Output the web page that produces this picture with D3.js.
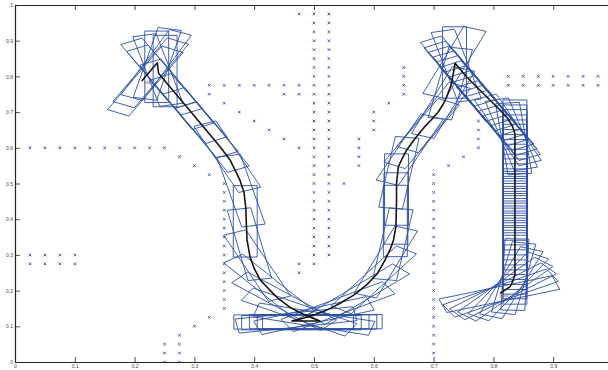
<!DOCTYPE html>
<html>
<head>
<meta charset="utf-8">
<script src="https://d3js.org/d3.v7.min.js"></script>
<style>
  html, body { margin: 0; padding: 0; background: #fff; }
  svg { display: block; }
  .tick text { font-family: "Liberation Sans", Arial, sans-serif; font-size: 5px; fill: #444; }
</style>
</head>
<body>
<div id="chart"></div>
<script>
// ---- data ----
const xTickValues = [0, 0.1, 0.2, 0.3, 0.4, 0.5, 0.6, 0.7, 0.8, 0.9];
const xTickLabels = ["0", "0.1", "0.2", "0.3", "0.4", "0.5", "0.6", "0.7", "0.8", "0.9"];
const yTickValues = [0, 0.1, 0.2, 0.3, 0.4, 0.5, 0.6, 0.7, 0.8, 0.9, 1];
const yTickLabels = ["0", "0.1", "0.2", "0.3", "0.4", "0.5", "0.6", "0.7", "0.8", "0.9", "1"];

// obstacle points (x, y)
const obsLeftRows = [
  [0.025, 0.6], [0.05, 0.6], [0.075, 0.6], [0.1, 0.6], [0.125, 0.6], [0.15, 0.6], [0.175, 0.6], [0.2, 0.6], [0.225, 0.6], [0.25, 0.6],
  [0.025, 0.3], [0.05, 0.3], [0.075, 0.3], [0.1, 0.3],
  [0.025, 0.275], [0.05, 0.275], [0.075, 0.275], [0.1, 0.275]
];
const obsLeftWall = [
  [0.25, 0], [0.25, 0.025], [0.25, 0.05], [0.275, 0], [0.275, 0.025], [0.275, 0.05], [0.275, 0.075],
  [0.3, 0.1], [0.325, 0.125],
  [0.35, 0.15], [0.35, 0.175], [0.35, 0.2], [0.35, 0.225], [0.35, 0.25], [0.35, 0.275], [0.35, 0.3], [0.35, 0.325],
  [0.35, 0.35], [0.35, 0.375], [0.35, 0.4], [0.35, 0.425], [0.35, 0.45], [0.35, 0.475], [0.35, 0.5],
  [0.325, 0.525], [0.3, 0.55], [0.275, 0.575]
];
const obsTopLeft = [
  [0.325, 0.775], [0.35, 0.775], [0.375, 0.775], [0.4, 0.775], [0.425, 0.775], [0.45, 0.775], [0.475, 0.775],
  [0.325, 0.75], [0.45, 0.75], [0.475, 0.75],
  [0.35, 0.725], [0.375, 0.7], [0.4, 0.675], [0.425, 0.65], [0.45, 0.625], [0.475, 0.6],
  [0.475, 0.975], [0.475, 0.275], [0.475, 0.25]
];
const obsColumn050 = [0.975, 0.95, 0.925, 0.9, 0.875, 0.85, 0.825, 0.8, 0.775, 0.75, 0.725, 0.7, 0.675, 0.65, 0.625,
  0.6, 0.575, 0.55, 0.525, 0.5, 0.475, 0.45, 0.425, 0.4, 0.375, 0.35, 0.325, 0.3, 0.275];
const obsColumn0525 = [0.975, 0.95, 0.925, 0.9, 0.875, 0.85, 0.825, 0.8, 0.775, 0.75, 0.725, 0.7, 0.675, 0.65, 0.625,
  0.6, 0.575, 0.55, 0.525, 0.5, 0.475, 0.45, 0.425, 0.4, 0.375, 0.35, 0.325, 0.3];
const obsMiddle = [
  [0.55, 0.5], [0.575, 0.55], [0.575, 0.575], [0.575, 0.6], [0.575, 0.625],
  [0.6, 0.65], [0.6, 0.675], [0.6, 0.7], [0.625, 0.725],
  [0.65, 0.75], [0.65, 0.775], [0.65, 0.8], [0.65, 0.825]
];
const obsColumn070 = [0.025, 0.05, 0.075, 0.1, 0.125, 0.15, 0.175, 0.2, 0.225, 0.25, 0.275, 0.3, 0.325,
  0.35, 0.375, 0.4, 0.425, 0.45, 0.475, 0.5, 0.525];
const obsRight = [
  [0.725, 0.55], [0.75, 0.575], [0.775, 0.6], [0.775, 0.625], [0.775, 0.65], [0.775, 0.675],
  [0.825, 0.8], [0.85, 0.8], [0.875, 0.8], [0.9, 0.8], [0.925, 0.8], [0.95, 0.8], [0.975, 0.8],
  [0.825, 0.775], [0.85, 0.775], [0.875, 0.775], [0.9, 0.775], [0.925, 0.775], [0.95, 0.775], [0.975, 0.775]
];

// path of the robot centre (x, y)
const pathPoints = [
  [0.212, 0.787], [0.238, 0.838], [0.240, 0.809], [0.343, 0.603], [0.360, 0.565], [0.376, 0.510],
  [0.383, 0.475], [0.386, 0.430], [0.387, 0.380], [0.388, 0.342], [0.393, 0.295], [0.400, 0.262],
  [0.410, 0.230], [0.424, 0.205], [0.440, 0.178], [0.460, 0.153], [0.477, 0.138], [0.493, 0.126],
  [0.510, 0.115], [0.463, 0.115], [0.480, 0.122], [0.500, 0.132], [0.522, 0.146], [0.543, 0.164],
  [0.567, 0.188], [0.588, 0.216], [0.606, 0.248], [0.619, 0.286], [0.628, 0.318], [0.633, 0.342],
  [0.637, 0.380], [0.638, 0.450], [0.638, 0.500], [0.641, 0.547], [0.648, 0.572], [0.655, 0.594],
  [0.668, 0.624], [0.683, 0.655], [0.697, 0.680], [0.708, 0.701], [0.716, 0.722], [0.722, 0.743],
  [0.730, 0.780], [0.736, 0.837], [0.755, 0.799], [0.811, 0.706], [0.824, 0.682], [0.832, 0.660],
  [0.836, 0.640], [0.836, 0.594], [0.836, 0.244], [0.832, 0.225], [0.828, 0.211], [0.811, 0.192]
];

// robot footprints along the path: centre x, centre y, heading (deg)
const poseStartTurn = [
  [0.218, 0.787, 63], [0.227, 0.81, 63], [0.236, 0.832, 66], [0.238, 0.835, 78],
  [0.237, 0.827, 90], [0.251, 0.815, 90], [0.239, 0.818, 103], [0.240, 0.809, 117]
];
const poseLeftDiag = [
  [0.25, 0.79, 117], [0.27, 0.75, 116], [0.29, 0.71, 118], [0.31, 0.67, 117], [0.33, 0.63, 116]
];
const poseLeftCurve = [
  [0.355, 0.575, 112], [0.378, 0.48, 102], [0.385, 0.394, 90], [0.392, 0.33, 100]
];
const poseLeftLow = [
  [0.405, 0.27, 112], [0.425, 0.21, 127], [0.45, 0.17, 138], [0.475, 0.14, 150], [0.50, 0.12, 165]
];
const poseBottom = [
  [0.514, 0.113, 0], [0.505, 0.112, 0], [0.492, 0.113, 0], [0.479, 0.11, 0], [0.466, 0.112, 0]
];
const poseRightRise = [
  [0.47, 0.118, 10], [0.50, 0.13, 20], [0.54, 0.155, 32], [0.575, 0.19, 45],
  [0.60, 0.23, 57], [0.62, 0.28, 70], [0.632, 0.33, 82]
];
const poseRightVert = [
  [0.636, 0.395, 90], [0.637, 0.43, 90], [0.638, 0.483, 90]
];
const poseRightCurve = [
  [0.642, 0.53, 82], [0.66, 0.595, 68], [0.68, 0.64, 63], [0.70, 0.685, 64], [0.716, 0.727, 70], [0.728, 0.78, 80]
];
const poseTopTurn = [
  [0.735, 0.839, 70], [0.735, 0.839, 90], [0.738, 0.83, 103], [0.741, 0.815, 117]
];
const poseRightDiag = [
  [0.747, 0.80, 117], [0.754, 0.787, 117], [0.761, 0.773, 116], [0.768, 0.76, 117], [0.775, 0.746, 118],
  [0.782, 0.732, 117], [0.789, 0.718, 116], [0.796, 0.704, 117], [0.803, 0.69, 118], [0.81, 0.677, 117],
  [0.817, 0.663, 116], [0.824, 0.65, 112], [0.83, 0.638, 104], [0.834, 0.626, 96]
];
const stackY = [0.634, 0.62, 0.607, 0.592, 0.578, 0.566, 0.551, 0.537, 0.523, 0.51, 0.496, 0.482, 0.469, 0.455,
  0.441, 0.428, 0.414, 0.40, 0.386, 0.372, 0.358, 0.345, 0.331, 0.317, 0.303, 0.29, 0.277, 0.262];
const poseEndTurn = [
  [0.836, 0.245, 88], [0.834, 0.235, 80], [0.83, 0.222, 70], [0.825, 0.212, 60], [0.82, 0.204, 50],
  [0.816, 0.198, 40], [0.812, 0.193, 30], [0.81, 0.19, 19]
];

// ---- layout ----
const width = 608, height = 370;
const robotLength = 0.2, robotWidth = 0.04;
const blue = "#2d4fa6";

const svg = d3.select("#chart").append("svg")
  .attr("width", width)
  .attr("height", height);

svg.append("rect").attr("width", width).attr("height", height).attr("fill", "#fff");

const x = d3.scaleLinear().domain([0, 1]).range([15, 613]);
const y = d3.scaleLinear().domain([0, 1]).range([362, 5]);

// obstacles
const obstacles = [].concat(
  obsLeftRows, obsLeftWall, obsTopLeft,
  obsColumn050.map(v => [0.5, v]),
  obsColumn0525.map(v => [0.525, v]),
  obsMiddle,
  obsColumn070.map(v => [0.7, v]),
  obsRight
);

const s = 1.3;
svg.append("g").selectAll("path")
  .data(obstacles)
  .enter()
  .append("path")
  .attr("d", d => {
    const px = x(d[0]), py = y(d[1]);
    return `M${px - s},${py - s}L${px + s},${py + s}M${px - s},${py + s}L${px + s},${py - s}`;
  })
  .attr("stroke", blue)
  .attr("stroke-width", 0.9)
  .attr("fill", "none");

// robot footprints
const poses = [].concat(
  poseStartTurn, poseLeftDiag, poseLeftCurve, poseLeftLow, poseBottom,
  poseRightRise, poseRightVert, poseRightCurve, poseTopTurn, poseRightDiag,
  stackY.map(v => [0.836, v, 90]),
  poseEndTurn
);

function footprint(p) {
  const a = p[2] * Math.PI / 180;
  const ux = Math.cos(a) * robotLength / 2, uy = Math.sin(a) * robotLength / 2;
  const vx = -Math.sin(a) * robotWidth / 2, vy = Math.cos(a) * robotWidth / 2;
  const pts = [
    [p[0] + ux + vx, p[1] + uy + vy],
    [p[0] - ux + vx, p[1] - uy + vy],
    [p[0] - ux - vx, p[1] - uy - vy],
    [p[0] + ux - vx, p[1] + uy - vy]
  ];
  return "M" + pts.map(q => `${x(q[0])},${y(q[1])}`).join("L") + "Z";
}

svg.append("g").selectAll("path")
  .data(poses)
  .enter()
  .append("path")
  .attr("d", footprint)
  .attr("fill", "none")
  .attr("stroke", blue)
  .attr("stroke-width", 0.9);

// path
const line = d3.line().x(d => x(d[0])).y(d => y(d[1]));
svg.append("path")
  .datum(pathPoints)
  .attr("d", line)
  .attr("fill", "none")
  .attr("stroke", "#151515")
  .attr("stroke-width", 1.6)
  .attr("stroke-linejoin", "round");

// labels at start / goal
svg.append("text")
  .attr("x", x(0.216)).attr("y", y(0.778))
  .attr("font-family", "Liberation Sans, Arial, sans-serif")
  .attr("font-size", 5).attr("fill", "#777")
  .text("start");
svg.append("text")
  .attr("x", x(0.81)).attr("y", y(0.182))
  .attr("font-family", "Liberation Sans, Arial, sans-serif")
  .attr("font-size", 5).attr("fill", "#777")
  .text("goal");

// axes, ticks pointing inward
const styleAxis = g => {
  g.select(".domain").attr("stroke", "#222").attr("stroke-width", 1.2);
  g.selectAll(".tick line").attr("stroke", "#222").attr("stroke-width", 0.8);
};

svg.append("g")
  .attr("transform", `translate(0,${y(0)})`)
  .call(d3.axisBottom(x).tickValues(xTickValues).tickFormat((d, i) => xTickLabels[i])
    .tickSizeInner(-5).tickSizeOuter(0).tickPadding(2))
  .call(styleAxis);

svg.append("g")
  .attr("transform", `translate(0,${y(1)})`)
  .call(d3.axisTop(x).tickValues(xTickValues).tickFormat("")
    .tickSizeInner(-5).tickSizeOuter(0))
  .call(styleAxis);

svg.append("g")
  .attr("transform", `translate(${x(0)},0)`)
  .call(d3.axisLeft(y).tickValues(yTickValues).tickFormat((d, i) => yTickLabels[i])
    .tickSizeInner(-5).tickSizeOuter(0).tickPadding(2))
  .call(styleAxis);

svg.append("g")
  .attr("transform", `translate(${x(1)},0)`)
  .call(d3.axisRight(y).tickValues(yTickValues).tickFormat("")
    .tickSizeInner(-5).tickSizeOuter(0))
  .call(styleAxis);
</script>
</body>
</html>
